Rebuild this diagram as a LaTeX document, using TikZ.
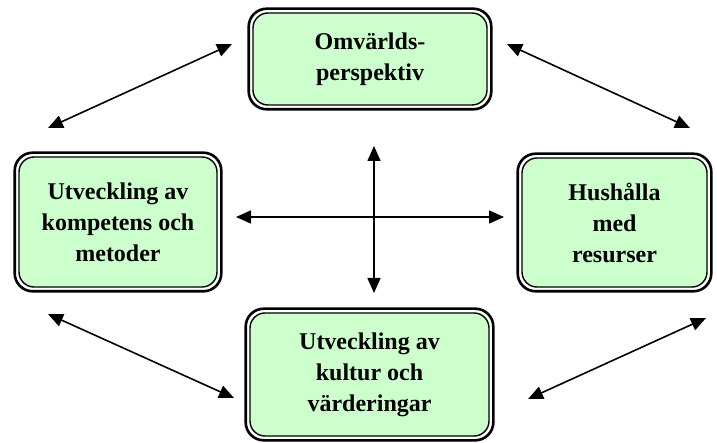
\documentclass[tikz,border=0pt]{standalone}
\usepackage{fontspec}
\setmainfont{Liberation Serif}
\usepackage{xcolor}
\usetikzlibrary{positioning,arrows.meta}
\definecolor{boxgreen}{RGB}{204,255,204}

\begin{document}
\begin{tikzpicture}[x=1pt, y=-1pt,
  box/.style={draw, fill=boxgreen, rounded corners=15pt, line width=1.4pt, inner sep=0pt, align=center, font=\bfseries\fontsize{24}{31}\selectfont},
  frame/.style={draw, rounded corners=18pt, line width=2.6pt},
  arr/.style={{Triangle[length=15pt,width=13pt]}-{Triangle[length=15pt,width=13pt]}, line width=1.6pt},
]
\useasboundingbox (0,0) rectangle (717,443);
% boxes
\node[box, minimum width=234pt, minimum height=92pt] (omv) at (370,59) {Omvärlds-\\perspektiv};
\node[box, minimum width=198pt, minimum height=130pt] (komp) at (118,222) {Utveckling av\\kompetens och\\metoder};
\node[box, minimum width=185pt, minimum height=129pt] (hush) at (614.5,222.5) {Hushålla\\med\\resurser};
\node[box, minimum width=239pt, minimum height=123pt] (kult) at (369.5,374.5) {Utveckling av\\kultur och\\värderingar};
\foreach \b in {omv,komp,hush,kult}
  \draw[frame] ([shift={(-3.6pt,3.6pt)}]\b.north west) rectangle ([shift={(3.6pt,-3.6pt)}]\b.south east);

% arrow ends
\coordinate (tl1) at (48,128);  \coordinate (tl2) at (232,44);
\coordinate (tr1) at (507,44);  \coordinate (tr2) at (690,128);
\coordinate (bl1) at (48,314);  \coordinate (bl2) at (234,398);
\coordinate (br1) at (528,399); \coordinate (br2) at (706,318);
\coordinate (hl) at (236,217);  \coordinate (hr) at (504,217);
\coordinate (vt) at (374,146);  \coordinate (vb) at (374,293);

\draw[arr] (tl1) -- (tl2);
\draw[arr] (tr1) -- (tr2);
\draw[arr] (bl1) -- (bl2);
\draw[arr] (br1) -- (br2);
\draw[arr] (hl) -- (hr);
\draw[arr] (vt) -- (vb);
\end{tikzpicture}
\end{document}
